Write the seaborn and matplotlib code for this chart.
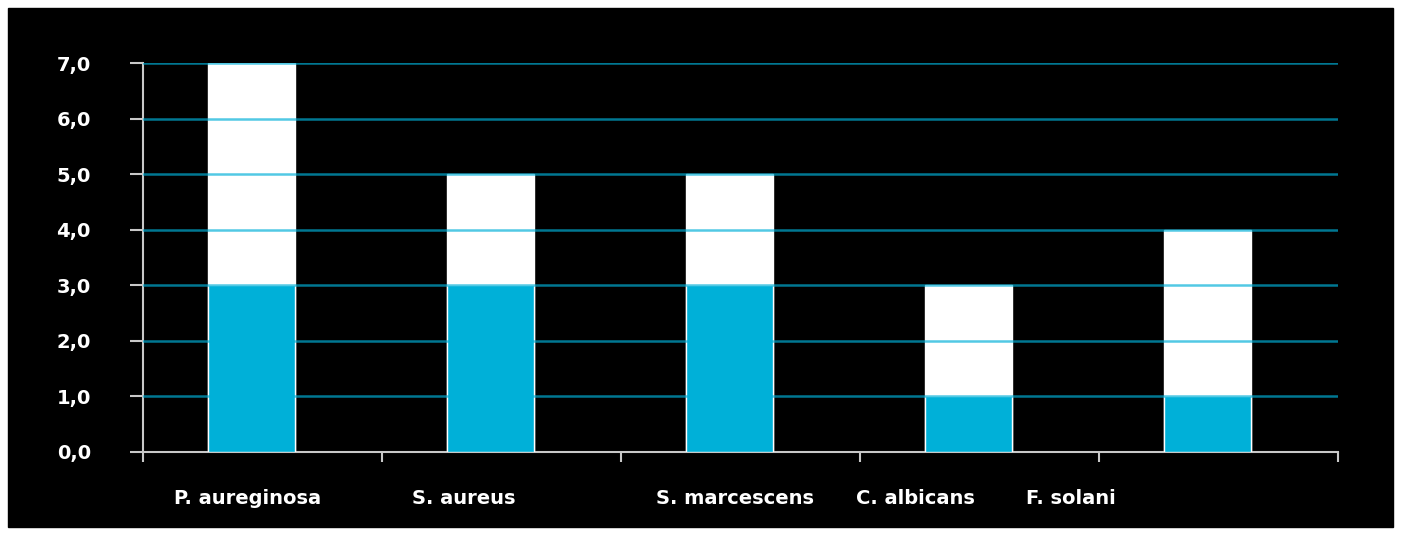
import matplotlib
matplotlib.use("Agg")
import matplotlib.pyplot as plt
from matplotlib.patches import Rectangle
import pandas as pd
import seaborn as sns

species = ["P. aureginosa", "S. aureus", "S. marcescens", "C. albicans", "F. solani"]
lower = [3, 3, 3, 1, 1]      # blue part
total = [7, 5, 5, 3, 4]      # full stack height (white on top)
y_ticks = [0, 1, 2, 3, 4, 5, 6, 7]
y_labels = ["0,0", "1,0", "2,0", "3,0", "4,0", "5,0", "6,0", "7,0"]

df = pd.DataFrame({"species": species, "lower": lower, "total": total})

sns.set_style("dark")
plt.rcParams["font.family"] = ["DejaVu Sans"]

fig = plt.figure(figsize=(14.01, 5.35), dpi=100, facecolor="white")
fig.patches.append(Rectangle((8 / 1401, 8 / 535), 1385 / 1401, 519 / 535,
                             transform=fig.transFigure, color="black", zorder=-1))
ax = fig.add_axes([143 / 1401, 83 / 535, 1195 / 1401, 389 / 535])
ax.set_zorder(1)
ax.set_facecolor("black")

blue = "#00b0d8"
sns.barplot(data=df, x="species", y="total", color="white", width=0.364,
            saturation=1, ax=ax, zorder=2)
sns.barplot(data=df, x="species", y="lower", color=blue, width=0.364,
            saturation=1, ax=ax, zorder=3)

# bars sit slightly left of the middle of each category slot
left_edge = -0.454
ax.set_xlim(left_edge, left_edge + len(species))
ax.set_ylim(0, 7)
ax.set_xlabel("")
ax.set_ylabel("")

# gridlines over the bars (same blue, so they vanish on the blue part)
for y in y_ticks[1:]:
    ax.axhline(y, color=blue, alpha=0.68, lw=1.8, zorder=4)

ax.set_yticks(y_ticks)
ax.set_yticklabels(y_labels, color="white", fontsize=14, fontweight="bold")
ax.set_xticks([left_edge + i for i in range(len(species) + 1)])
ax.set_xticklabels([])
ax.tick_params(axis="y", length=9.5, width=1.5, color="#c8c8c8", pad=28, left=True)
ax.tick_params(axis="x", length=7.5, width=1.5, color="#c8c8c8", bottom=True)

# category labels are not centred under the bars in the original
label_shift = [-0.015, -0.111, 0.025, -0.220, -0.571]
for i, name in enumerate(species):
    ax.text(i + label_shift[i], -0.936, name, ha="center", va="baseline",
            color="white", fontsize=14, fontweight="bold")

for side in ["top", "right"]:
    ax.spines[side].set_visible(False)
for side in ["left", "bottom"]:
    ax.spines[side].set_visible(True)
    ax.spines[side].set_color("#c8c8c8")
    ax.spines[side].set_linewidth(1.5)
ax.grid(False)

fig.savefig("out.png", dpi=100, facecolor="white")
